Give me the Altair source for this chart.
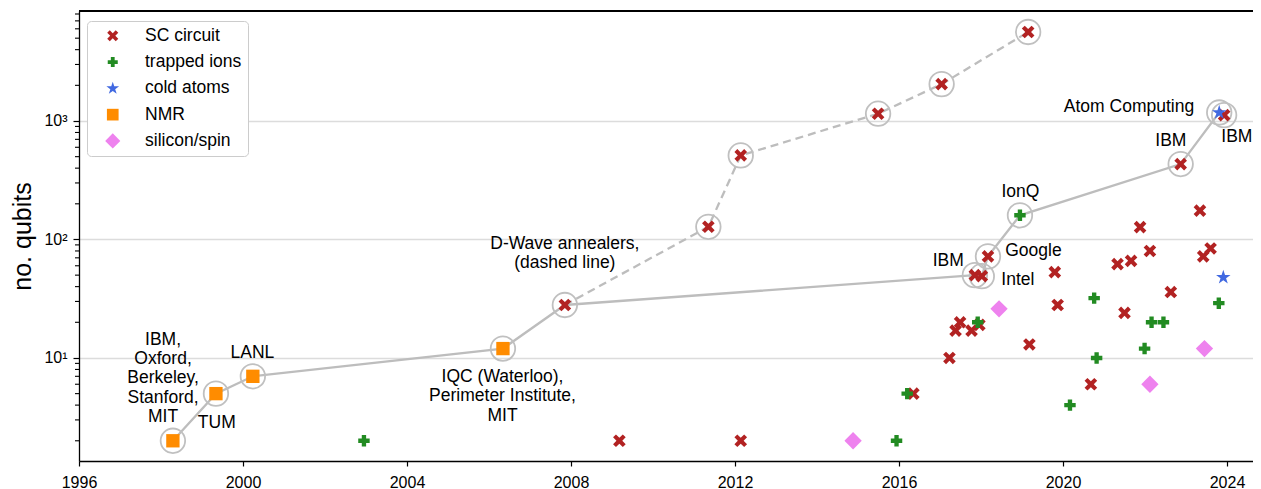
import altair as alt
import pandas as pd

# ---------------- data ----------------
sc_year = [2009.18, 2012.14, 2007.85, 2011.35, 2012.14, 2015.49, 2017.04, 2019.15,
           2016.35, 2017.23, 2017.38, 2017.49, 2017.77, 2017.96, 2017.85, 2018.02,
           2018.17, 2019.18, 2019.80, 2019.87, 2020.68, 2021.33, 2021.50, 2021.66,
           2021.88, 2022.12, 2022.63, 2022.87, 2023.34, 2023.42, 2023.60, 2023.93]
sc_qubits = [2, 2, 28, 128, 512, 1152, 2048, 5640,
             5, 10, 17, 20, 17, 19, 50, 49,
             72, 13, 53, 28, 6, 62, 24, 66,
             127, 80, 36, 433, 175, 72, 84, 1121]

ion_year = [2002.95, 2015.94, 2016.20, 2017.92, 2018.95, 2020.17, 2020.76, 2020.82,
            2021.99, 2022.16, 2022.45, 2023.80]
ion_qubits = [2, 2, 5, 20, 160, 4, 32, 10, 12, 20, 20, 29]

atom_year = [2023.81, 2023.91]
atom_qubits = [1180, 48]

nmr_year = [1998.29, 1999.34, 2000.24, 2006.34]
nmr_qubits = [2, 5, 7, 12]

spin_year = [2014.88, 2018.44, 2022.12, 2023.45]
spin_qubits = [2, 26, 6, 12]

# record-holding path (solid) and D-Wave annealers (dashed)
main_year = [1998.29, 1999.34, 2000.24, 2006.34, 2007.85, 2017.85, 2018.02, 2018.17,
             2018.95, 2022.87, 2023.81, 2023.93]
main_qubits = [2, 5, 7, 12, 28, 50, 49, 72, 160, 433, 1180, 1121]

dwave_year = [2007.85, 2011.35, 2012.14, 2015.49, 2017.04, 2019.15]
dwave_qubits = [28, 128, 512, 1152, 2048, 5640]

# annotations (anchor = centre of the first text line, in data coordinates)
ann_text = ["IBM,\nOxford,\nBerkeley,\nStanford,\nMIT", "TUM", "LANL",
            "IQC (Waterloo),\nPerimeter Institute,\nMIT",
            "D-Wave annealers,\n(dashed line)", "IBM", "Google", "Intel", "IonQ",
            "IBM", "Atom Computing", "IBM"]
ann_year = [1998.05, 1999.36, 2000.23, 2006.33, 2007.85, 2017.20, 2019.28, 2018.90,
            2018.96, 2022.63, 2021.61, 2024.24]
ann_qubits = [14.19, 2.83, 11.1, 6.87, 91.1, 66.1, 80.0, 45.5, 250, 682, 1306, 738]

cat_names = ["SC circuit", "trapped ions", "cold atoms", "NMR", "silicon/spin"]
cat_colors = ["#b22222", "#228b22", "#4169e1", "#ff8c00", "#ee82ee"]

x_ticks = [1996, 2000, 2004, 2008, 2012, 2016, 2020, 2024]
y_major = [10, 100, 1000]
y_minor = [2, 3, 4, 5, 6, 7, 8, 9, 20, 30, 40, 50, 60, 70, 80, 90,
           200, 300, 400, 500, 600, 700, 800, 900, 2000, 3000, 4000, 5000, 6000, 7000, 8000]

# ---------------- marker outlines (unit square [-1, 1]) ----------------
def poly(points, s):
    return "M" + "L".join(f"{x * s:.4f},{y * s:.4f}" for x, y in points) + "Z"

k = 0.46
X_PATH = poly([(-1 + k, -1), (0, -k), (1 - k, -1), (1, -1 + k), (k, 0), (1, 1 - k),
               (1 - k, 1), (0, k), (-1 + k, 1), (-1, 1 - k), (-k, 0), (-1, -1 + k)], 0.73)
t = 0.38
PLUS_PATH = poly([(-t, -1), (t, -1), (t, -t), (1, -t), (1, t), (t, t), (t, 1), (-t, 1),
                  (-t, t), (-1, t), (-1, -t), (-t, -t)], 0.66)
STAR_PATH = poly([(0, -1), (0.2245, -0.309), (0.951, -0.309), (0.3633, 0.118),
                  (0.5878, 0.809), (0, 0.382), (-0.5878, 0.809), (-0.3633, 0.118),
                  (-0.951, -0.309), (-0.2245, -0.309)], 0.88)
SQUARE_PATH = poly([(-1, -1), (1, -1), (1, 1), (-1, 1)], 0.77)
DIAMOND_PATH = poly([(0, -1), (1, 0), (0, 1), (-1, 0)], 1.0)
cat_shapes = [X_PATH, PLUS_PATH, STAR_PATH, SQUARE_PATH, DIAMOND_PATH]

FONT = "Liberation Sans"
W, H = 1174, 450
LINE_GRAY = "#bdbdbd"

# ---------------- tables ----------------
pts = pd.concat([
    pd.DataFrame({"year": sc_year, "qubits": sc_qubits, "tech": cat_names[0]}),
    pd.DataFrame({"year": ion_year, "qubits": ion_qubits, "tech": cat_names[1]}),
    pd.DataFrame({"year": atom_year, "qubits": atom_qubits, "tech": cat_names[2]}),
    pd.DataFrame({"year": nmr_year, "qubits": nmr_qubits, "tech": cat_names[3]}),
    pd.DataFrame({"year": spin_year, "qubits": spin_qubits, "tech": cat_names[4]}),
], ignore_index=True)
main_df = pd.DataFrame({"year": main_year, "qubits": main_qubits})
dwave_df = pd.DataFrame({"year": dwave_year, "qubits": dwave_qubits})
circ_df = pd.concat([main_df, dwave_df], ignore_index=True).drop_duplicates()
ann_df = pd.DataFrame({"text": ann_text, "year": ann_year, "qubits": ann_qubits})
minor_df = pd.DataFrame({"qubits": y_minor})

xscale = alt.Scale(domain=[1996, 1996 + W / 41.0], nice=False, zero=False)
yscale = alt.Scale(type="log", domain=[1.35, 8480], nice=False)

x_enc = alt.X("year:Q", scale=xscale,
              axis=alt.Axis(values=x_ticks, format="d", title=None, grid=False,
                            labelFlush=False,
                            labelFontSize=16, labelFont=FONT, labelColor="black",
                            tickSize=5, tickColor="black", labelPadding=8,
                            domainColor="black", domainWidth=1.3, tickWidth=1.2))
y_enc = alt.Y("qubits:Q", scale=yscale,
              axis=alt.Axis(values=y_major, title="no. qubits", grid=True,
                            gridColor="#dcdcdc", gridWidth=1.5, labelFlush=False,
                            labelExpr="datum.value == 10 ? '10\u00b9' : datum.value == 100 ? '10\u00b2' : '10\u00b3'",
                            labelFontSize=16, labelFont=FONT, labelColor="black",
                            tickSize=6, tickColor="black", labelPadding=6, tickWidth=1.2,
                            domainColor="black", domainWidth=1.3,
                            titleFontSize=25, titleFont=FONT, titleFontWeight="normal",
                            titleColor="black", titlePadding=8))

main_line = alt.Chart(main_df).mark_line(color=LINE_GRAY, strokeWidth=2.3).encode(
    x=x_enc, y=y_enc)
dwave_line = alt.Chart(dwave_df).mark_line(color=LINE_GRAY, strokeWidth=2.3,
                                            strokeDash=[8, 5]).encode(x=x_enc, y=y_enc)
circles = alt.Chart(circ_df).mark_point(shape="circle", size=600, filled=False,
                                        color="#c0c0c0", strokeWidth=1.8,
                                        opacity=1).encode(x=x_enc, y=y_enc)

points = alt.Chart(pts).mark_point(filled=True, opacity=1, strokeWidth=0, size=300).encode(
    x=x_enc, y=y_enc,
    color=alt.Color("tech:N", scale=alt.Scale(domain=cat_names, range=cat_colors),
                    legend=alt.Legend(orient="none", legendX=8, legendY=10, title=None,
                                      labelFontSize=17.5, labelFont=FONT, labelColor="black",
                                      padding=6, symbolOffset=11, labelOffset=23.5,
                                      rowPadding=7.3, strokeColor="#cccccc",
                                      fillColor="white", cornerRadius=4,
                                      symbolSize=230, symbolStrokeWidth=0)),
    shape=alt.Shape("tech:N", scale=alt.Scale(domain=cat_names, range=cat_shapes)),
)

annotations = alt.Chart(ann_df).mark_text(font=FONT, fontSize=17.5, lineBreak="\n",
                                          baseline="middle", align="center",
                                          lineHeight=19.2, color="black").encode(
    x=x_enc, y=y_enc, text="text:N")

minor_ticks = alt.Chart(minor_df).mark_rule(color="black", strokeWidth=1.1).encode(
    y=y_enc, x=alt.value(-4), x2=alt.value(0))

top_spine = alt.Chart(minor_df).mark_rule(color="black", strokeWidth=1.3).encode(
    x=alt.value(0), x2=alt.value(W), y=alt.value(0))

chart = alt.layer(main_line, dwave_line, circles, points, annotations, minor_ticks,
                  top_spine).properties(
    width=W, height=H,
    autosize=alt.AutoSizeParams(type="none"),
    padding={"left": 71, "right": 0, "top": 3, "bottom": 32},
).configure_view(stroke=None).configure(background="white")

chart.save("out.html", embed_options={"renderer": "svg", "actions": False})
